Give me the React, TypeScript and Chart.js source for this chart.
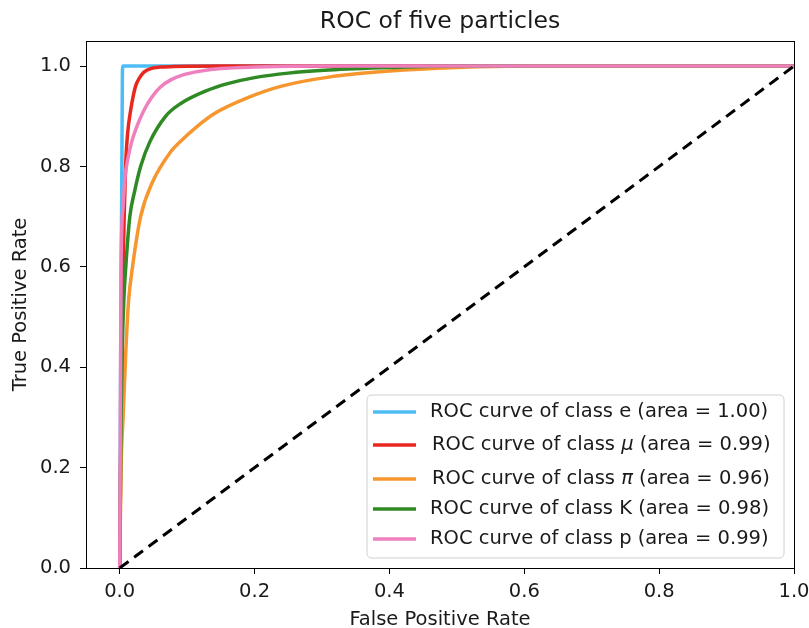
import React, { useEffect, useRef } from "react";
import { Chart, registerables } from "chart.js";

Chart.register(...registerables);

const chartTitle = "ROC of five particles";
const xTitle = "False Positive Rate";
const yTitle = "True Positive Rate";

const xTickValues = [0, 0.2, 0.4, 0.6, 0.8, 1.0];
const yTickValues = [0, 0.2, 0.4, 0.6, 0.8, 1.0];

const classNames = ["e", "μ", "π", "K", "p"];
const classAreas = ["1.00", "0.99", "0.96", "0.98", "0.99"];
const classColors = ["#4fbdf5", "#e8281e", "#f5962f", "#2f8a23", "#ef7fbd"];

const eFpr = [0, 0.004, 0.005, 1];
const eTpr = [0, 0.99, 1, 1];

const muFpr = [0, 0.002, 0.004, 0.005, 0.007, 0.009, 0.012, 0.016, 0.02, 0.024, 0.03, 0.036, 0.046, 0.06, 0.08, 0.1, 0.15, 1];
const muTpr = [0, 0.3, 0.5, 0.6, 0.72, 0.81, 0.87, 0.91, 0.94, 0.962, 0.978, 0.988, 0.995, 0.998, 0.999, 0.9995, 1, 1];

const piFpr = [0, 0.002, 0.005, 0.009, 0.013, 0.019, 0.031, 0.049, 0.076, 0.09, 0.115, 0.14, 0.19, 0.24, 0.31, 0.4, 0.5, 0.6, 1];
const piTpr = [0, 0.2, 0.3, 0.43, 0.53, 0.6, 0.7, 0.77, 0.83, 0.85, 0.88, 0.905, 0.937, 0.96, 0.978, 0.99, 0.997, 1, 1];

const kFpr = [0, 0.002, 0.004, 0.006, 0.009, 0.015, 0.022, 0.031, 0.045, 0.068, 0.09, 0.127, 0.16, 0.2, 0.25, 0.31, 0.4, 0.5, 1];
const kTpr = [0, 0.3, 0.45, 0.53, 0.6, 0.7, 0.75, 0.8, 0.85, 0.9, 0.925, 0.95, 0.965, 0.977, 0.986, 0.992, 0.997, 1, 1];

const pFpr = [0, 0.001, 0.002, 0.005, 0.008, 0.012, 0.018, 0.027, 0.036, 0.047, 0.06, 0.075, 0.095, 0.12, 0.15, 0.2, 0.3, 1];
const pTpr = [0, 0.3, 0.6, 0.72, 0.78, 0.815, 0.85, 0.885, 0.912, 0.937, 0.958, 0.972, 0.983, 0.99, 0.995, 0.998, 1, 1];

const chanceFpr = [0, 1];
const chanceTpr = [0, 1];

const FONT = "'DejaVu Sans', sans-serif";

const toPoints = (xs: number[], ys: number[]) => xs.map((x, i) => ({ x, y: ys[i] }));

export default function App() {
  const canvasRef = useRef<HTMLCanvasElement | null>(null);

  useEffect(() => {
    document.body.style.margin = "0";
    const canvas = canvasRef.current;
    if (!canvas) return;

    const series = [
      { fpr: eFpr, tpr: eTpr },
      { fpr: muFpr, tpr: muTpr },
      { fpr: piFpr, tpr: piTpr },
      { fpr: kFpr, tpr: kTpr },
      { fpr: pFpr, tpr: pTpr },
    ];

    const datasets: any[] = series.map((s, i) => ({
      label: `ROC curve of class ${classNames[i]} (area = ${classAreas[i]})`,
      data: toPoints(s.fpr, s.tpr),
      borderColor: classColors[i],
      backgroundColor: classColors[i],
      borderWidth: 3.5,
      pointRadius: 0,
      cubicInterpolationMode: "monotone",
      fill: false,
      order: 5 - i,
      borderJoinStyle: "round",
    }));
    datasets.push({
      label: "chance",
      data: toPoints(chanceFpr, chanceTpr),
      borderColor: "#000",
      borderWidth: 3,
      borderDash: [11, 7],
      pointRadius: 0,
      fill: false,
      order: 0,
    });

    const decorPlugin = {
      id: "decor",
      afterDraw(chart: any) {
        const ctx = chart.ctx;
        const a = chart.chartArea;
        ctx.save();
        ctx.strokeStyle = "#000";
        ctx.lineWidth = 1;
        ctx.strokeRect(Math.round(a.left) + 0.5, Math.round(a.top) + 0.5, Math.round(a.right - a.left), Math.round(a.bottom - a.top));

        ctx.fillStyle = "#1a1a1a";
        ctx.font = `23.5px ${FONT}`;
        ctx.textAlign = "center";
        ctx.textBaseline = "alphabetic";
        const cx = (a.left + a.right) / 2;
        ctx.fillText(chartTitle, cx, 28);

        ctx.font = `19.5px ${FONT}`;
        ctx.fillText(xTitle, cx, 625);

        ctx.save();
        ctx.translate(26, (a.top + a.bottom) / 2);
        ctx.rotate(-Math.PI / 2);
        ctx.fillText(yTitle, 0, 0);
        ctx.restore();

        const lx = 367, ly = 395, lw = 417, lh = 163, r = 5;
        ctx.beginPath();
        ctx.moveTo(lx + r, ly);
        ctx.lineTo(lx + lw - r, ly);
        ctx.quadraticCurveTo(lx + lw, ly, lx + lw, ly + r);
        ctx.lineTo(lx + lw, ly + lh - r);
        ctx.quadraticCurveTo(lx + lw, ly + lh, lx + lw - r, ly + lh);
        ctx.lineTo(lx + r, ly + lh);
        ctx.quadraticCurveTo(lx, ly + lh, lx, ly + lh - r);
        ctx.lineTo(lx, ly + r);
        ctx.quadraticCurveTo(lx, ly, lx + r, ly);
        ctx.closePath();
        ctx.fillStyle = "rgba(255,255,255,0.85)";
        ctx.fill();
        ctx.strokeStyle = "#d0d0d0";
        ctx.lineWidth = 1;
        ctx.stroke();

        const rowY = [412, 445, 479, 509, 539];
        classNames.forEach((name, i) => {
          const y = rowY[i];
          ctx.strokeStyle = classColors[i];
          ctx.lineWidth = 3.5;
          ctx.setLineDash([]);
          ctx.beginPath();
          ctx.moveTo(373, y);
          ctx.lineTo(416, y);
          ctx.stroke();

          ctx.fillStyle = "#1a1a1a";
          ctx.textAlign = "left";
          ctx.textBaseline = "middle";
          let x = 430;
          const isMath = name === "μ" || name === "π";
          if (isMath) x = 432;
          ctx.font = `19.5px ${FONT}`;
          const prefix = "ROC curve of class ";
          ctx.fillText(prefix, x, y);
          x += ctx.measureText(prefix).width;
          ctx.font = isMath ? `italic 19.5px ${FONT}` : `19.5px ${FONT}`;
          ctx.fillText(name, x, y);
          x += ctx.measureText(name).width;
          ctx.font = `19.5px ${FONT}`;
          ctx.fillText(` (area = ${classAreas[i]})`, x, y);
        });
        ctx.restore();
      },
    };

    const tickFont = { family: FONT, size: 19.5 };

    const chart = new Chart(canvas, {
      type: "line",
      data: { datasets },
      options: {
        responsive: false,
        animation: false,
        layout: { padding: { top: 41, right: 15, left: 0, bottom: 0 } },
        plugins: {
          legend: { display: false },
          tooltip: { enabled: false },
          title: { display: false },
        },
        scales: {
          x: {
            type: "linear",
            min: -0.05,
            max: 1.0,
            afterBuildTicks: (s: any) => {
              s.ticks = xTickValues.map((v) => ({ value: v }));
            },
            afterFit: (s: any) => {
              s.height = 60;
              s.paddingRight = 0;
              s.paddingLeft = 0;
            },
            ticks: {
              callback: (v: any) => Number(v).toFixed(1),
              font: tickFont,
              color: "#1a1a1a",
              padding: 6,
              maxRotation: 0,
              autoSkip: false,
            },
            grid: {
              drawOnChartArea: false,
              drawTicks: true,
              tickLength: 6,
              tickColor: "#000",
              tickWidth: 1,
            },
            border: { display: true, color: "#000", width: 1 },
          },
          y: {
            type: "linear",
            min: 0,
            max: 1.05,
            afterBuildTicks: (s: any) => {
              s.ticks = yTickValues.map((v) => ({ value: v }));
            },
            afterFit: (s: any) => {
              s.width = 86;
              s.paddingTop = 0;
              s.paddingBottom = 0;
            },
            ticks: {
              callback: (v: any) => Number(v).toFixed(1),
              font: tickFont,
              color: "#1a1a1a",
              padding: 9,
              autoSkip: false,
            },
            grid: {
              drawOnChartArea: false,
              drawTicks: true,
              tickLength: 6,
              tickColor: "#000",
              tickWidth: 1,
            },
            border: { display: true, color: "#000", width: 1 },
          },
        },
      },
      plugins: [decorPlugin],
    });

    return () => chart.destroy();
  }, []);

  return (
    <div style={{ width: 809, height: 628 }}>
      <canvas ref={canvasRef} width={809} height={628} style={{ display: "block" }} />
    </div>
  );
}
